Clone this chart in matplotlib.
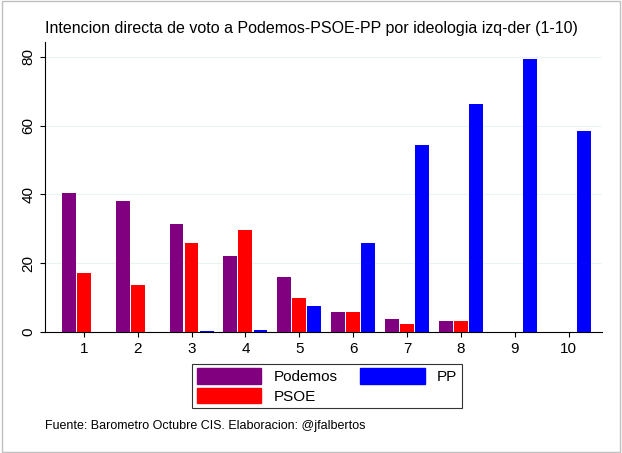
import matplotlib
matplotlib.use('Agg')
import matplotlib.pyplot as plt
import matplotlib.patches as mpatches
import numpy as np

categories = ['1', '2', '3', '4', '5', '6', '7', '8', '9', '10']
podemos = [40.4, 38.1, 31.4, 22.1, 16.0, 5.8, 3.8, 3.2, 0, 0]
psoe = [17.2, 13.7, 25.9, 29.7, 9.9, 5.8, 2.3, 3.2, 0, 0]
pp = [0, 0, 0.3, 0.5, 7.6, 25.9, 54.4, 66.3, 79.4, 58.4]

plt.rcParams['font.family'] = 'Liberation Sans'

fig = plt.figure(figsize=(6.22, 4.53), dpi=100)
fig.patch.set_facecolor('white')
ax = fig.add_axes([45/622, 1-332/453, 557/622, 290/453])

x = np.arange(len(categories))
w = 0.28
ax.bar(x - w, podemos, width=w*0.92, color='#800080', zorder=3)
ax.bar(x, psoe, width=w*0.92, color='#ff0000', zorder=3)
ax.bar(x + w, pp, width=w*0.92, color='#0000ff', zorder=3)

ax.set_xlim(-0.72, 9.62)
ax.set_ylim(0, 84.3)
ax.set_xticks(x)
ax.set_xticklabels(categories, fontsize=11)
ax.set_yticks([0, 20, 40, 60, 80])
ax.set_yticklabels(['0', '20', '40', '60', '80'], rotation=90, va='center', fontsize=11)
ax.yaxis.grid(True, color='#eaf2f3', linewidth=0.8, zorder=0)
for s in ['top', 'right']:
    ax.spines[s].set_visible(False)

fig.text(0.5, 1-28/453, 'Intencion directa de voto a Podemos-PSOE-PP por ideologia izq-der (1-10)',
         ha='center', va='center', fontsize=11.5)

handles = [mpatches.Patch(color='#800080', label='Podemos'),
           mpatches.Patch(color='#ff0000', label='PSOE'),
           mpatches.Patch(color='#0000ff', label='PP')]
leg = fig.legend(handles=handles, ncol=2, loc='center', bbox_to_anchor=(327/622, 1-386/453),
                 fontsize=11, frameon=True, fancybox=False, edgecolor='black',
                 handlelength=4.2, handleheight=1.2, columnspacing=1.5, labelspacing=0.2,
                 borderpad=0.3)
leg.get_frame().set_linewidth(0.8)

fig.text(45/622, 1-426/453, 'Fuente: Barometro Octubre CIS. Elaboracion: @jfalbertos',
         ha='left', va='center', fontsize=9)

fig.add_artist(mpatches.Rectangle((0.003, 0.003), 0.994, 0.994, transform=fig.transFigure,
                                  fill=False, edgecolor='#c0c0c0', linewidth=1))
fig.savefig('out.png', dpi=100)
